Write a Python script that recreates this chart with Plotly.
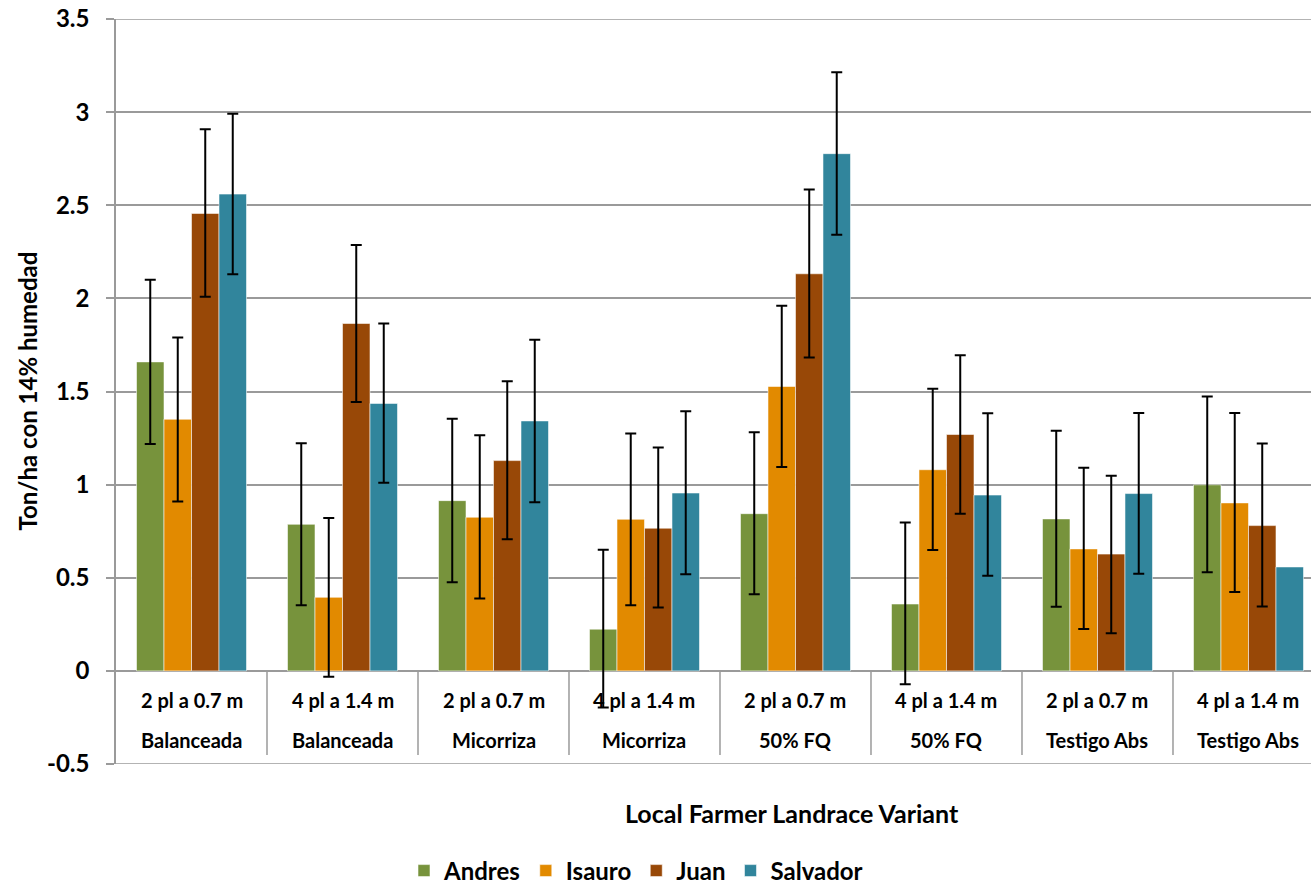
import numpy as np
import plotly.graph_objects as go

# ---- data ----
spacing = ["2 pl a 0.7 m", "4 pl a 1.4 m", "2 pl a 0.7 m", "4 pl a 1.4 m",
           "2 pl a 0.7 m", "4 pl a 1.4 m", "2 pl a 0.7 m", "4 pl a 1.4 m"]
treatment = ["Balanceada", "Balanceada", "Micorriza", "Micorriza",
             "50% FQ", "50% FQ", "Testigo Abs", "Testigo Abs"]

andres = [1.659, 0.787, 0.914, 0.224, 0.844, 0.359, 0.816, 0.999]
andres_plus = [0.441, 0.435, 0.440, 0.426, 0.437, 0.437, 0.473, 0.474]
andres_minus = [0.441, 0.435, 0.438, 0.421, 0.432, 0.431, 0.472, 0.469]

isauro = [1.351, 0.395, 0.825, 0.814, 1.527, 1.080, 0.655, 0.902]
isauro_plus = [0.439, 0.426, 0.440, 0.461, 0.433, 0.435, 0.435, 0.482]
isauro_minus = [0.441, 0.427, 0.437, 0.462, 0.432, 0.431, 0.430, 0.478]

juan = [2.456, 1.865, 1.129, 0.766, 2.132, 1.269, 0.627, 0.780]
juan_plus = [0.452, 0.422, 0.426, 0.434, 0.452, 0.426, 0.420, 0.441]
juan_minus = [0.447, 0.422, 0.422, 0.426, 0.450, 0.425, 0.425, 0.435]

salvador = [2.560, 1.436, 1.342, 0.955, 2.777, 0.944, 0.952, 0.558]
salvador_plus = [0.431, 0.429, 0.436, 0.439, 0.437, 0.439, 0.433, None]
salvador_minus = [0.430, 0.426, 0.437, 0.436, 0.435, 0.433, 0.431, None]

series_names = ["Andres", "Isauro", "Juan", "Salvador"]
colors = ["#77933C", "#E28A00", "#984807", "#31859C"]

y_ticks = [-0.5, 0, 0.5, 1, 1.5, 2, 2.5, 3, 3.5]
y_tick_text = ["-0.5", "0", "0.5", "1", "1.5", "2", "2.5", "3", "3.5"]
y_range = [-0.5, 3.5]

x_title = "Local Farmer Landrace Variant"
y_title = "Ton/ha con 14% humedad"

# ---- figure ----
FONT = "Lato"
cats = [f"{a}<br>{b}" for a, b in zip(spacing, treatment)]

fig = go.Figure()
for name, vals, plus, minus, col in zip(
        series_names,
        [andres, isauro, juan, salvador],
        [andres_plus, isauro_plus, juan_plus, salvador_plus],
        [andres_minus, isauro_minus, juan_minus, salvador_minus],
        colors):
    fig.add_trace(go.Bar(
        x=cats, y=vals, name=name,
        marker=dict(color=col, line=dict(color="rgba(255,255,255,0.55)", width=1)),
        error_y=dict(type="data", symmetric=False,
                     array=np.array(plus, dtype=float),
                     arrayminus=np.array(minus, dtype=float),
                     color="black", thickness=2, width=5.5),
    ))

GRID = "#9a9a9a"
shapes = []
# category separators in the label band
for i in range(len(cats) - 1):
    shapes.append(dict(type="line", xref="x", yref="y",
                       x0=i + 0.5, x1=i + 0.5, y0=0, y1=-0.452,
                       line=dict(color=GRID, width=1.5), layer="below"))
# gridlines at the two ends of the value axis (plotly drops them at the plot edge)
for yv in y_range:
    shapes.append(dict(type="line", xref="paper", yref="y",
                       x0=0, x1=1, y0=yv, y1=yv,
                       line=dict(color=GRID, width=1.5), layer="below"))

LBL = dict(family=FONT, size=20, color="black", weight="bold")
annotations = []
for c, a, b in zip(cats, spacing, treatment):
    annotations.append(dict(x=c, y=-0.156, xref="x", yref="y", text=a,
                            showarrow=False, font=LBL))
    annotations.append(dict(x=c, y=-0.372, xref="x", yref="y", text=b,
                            showarrow=False, font=LBL))

PW, PH = 1195, 745  # plot area size in px
annotations.append(dict(x=(792 - 116) / PW, y=(764 - 813) / PH, xref="paper", yref="paper",
                        text=x_title, showarrow=False, xanchor="center", yanchor="middle",
                        font=dict(family=FONT, size=25, color="black", weight="bold")))
annotations.append(dict(x=(27 - 116) / PW, y=0.5, xref="paper", yref="paper",
                        text=y_title, showarrow=False, textangle=-90,
                        xanchor="center", yanchor="middle",
                        font=dict(family=FONT, size=24, color="black", weight="bold")))

fig.update_layout(
    width=1311, height=884,
    margin=dict(l=116, r=0, t=19, b=120, autoexpand=False),
    paper_bgcolor="white", plot_bgcolor="white",
    barmode="group", bargap=0.2715, bargroupgap=0,
    font=dict(family=FONT, color="black"),
    showlegend=True,
    legend=dict(orientation="h", x=(636 - 116) / PW, xanchor="center",
                y=(764 - 871) / PH, yanchor="middle",
                font=dict(family=FONT, size=24, color="black", weight="bold"),
                itemwidth=30, traceorder="normal"),
    shapes=shapes,
    annotations=annotations,
    xaxis=dict(type="category", range=[-0.5, 7.414], showticklabels=False,
               showgrid=False, zeroline=False, showline=False, ticks="",
               automargin=False),
    yaxis=dict(range=y_range, tickvals=y_ticks, ticktext=y_tick_text,
               showgrid=True, gridcolor=GRID, gridwidth=1.5,
               zeroline=False, showline=True, linecolor=GRID, linewidth=1.5,
               ticks="outside", ticklen=8, tickcolor=GRID, tickwidth=1.5,
               ticklabelstandoff=12, automargin=False, ticklabeloverflow="allow",
               tickfont=dict(family=FONT, size=24, color="black", weight="bold")),
)

# remove the browser's default 8px body margin so the figure sits at the page origin
fig.write_html("out.html", config={"displayModeBar": False},
               post_script="document.body.style.margin='0px';")
